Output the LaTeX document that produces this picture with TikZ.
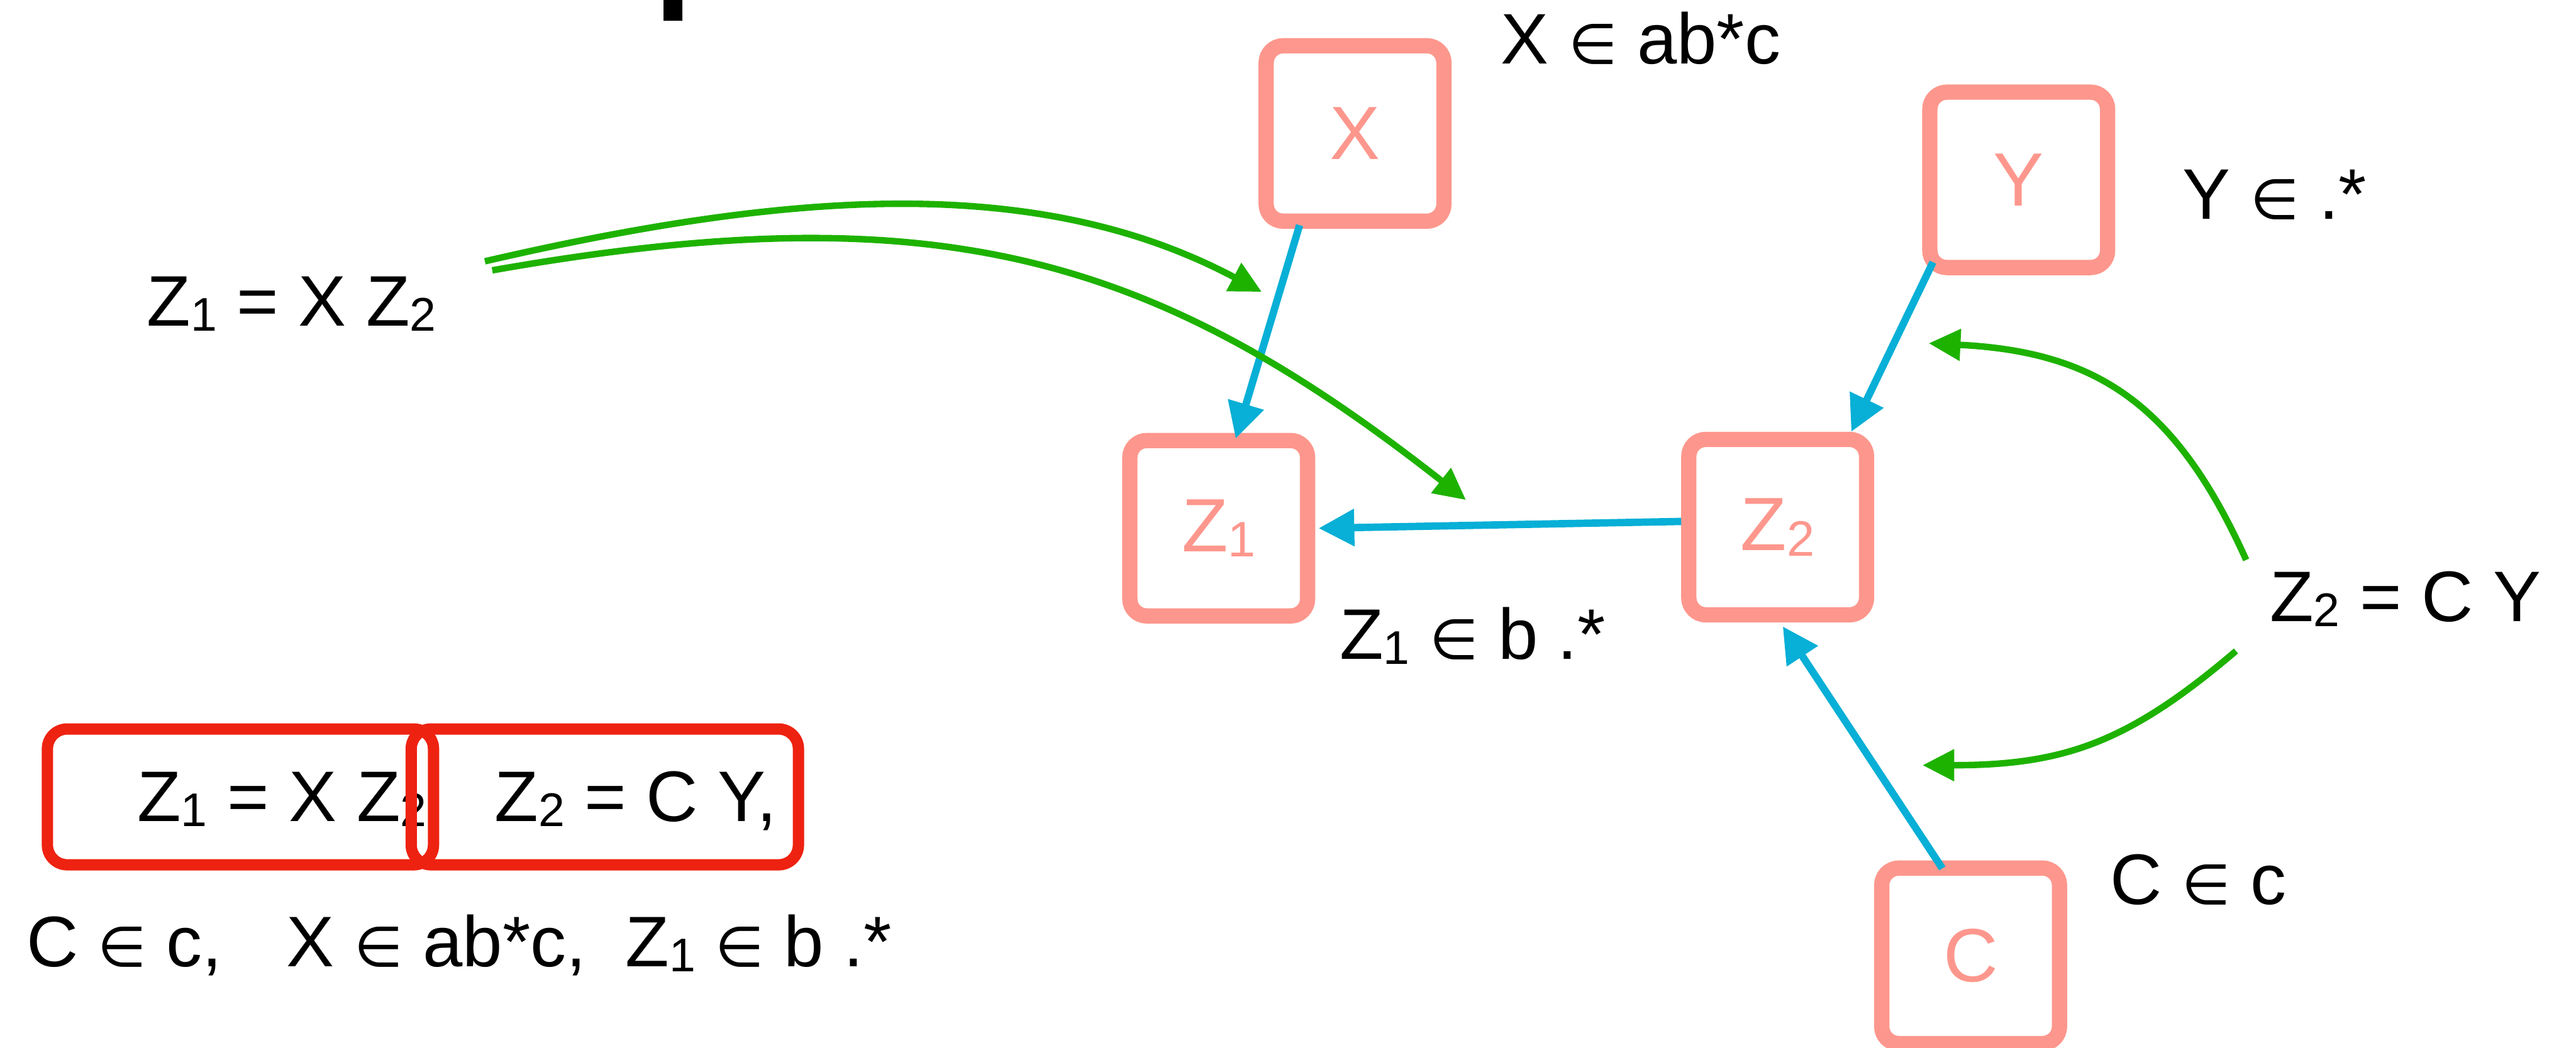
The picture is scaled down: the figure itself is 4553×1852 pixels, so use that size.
\documentclass[tikz,border=0pt]{standalone}
\usepackage{fontspec}
\usepackage{graphicx}
\setmainfont{Liberation Sans}
\newfontfamily\symf{DejaVu Sans}
\usetikzlibrary{arrows.meta}
\definecolor{salmon}{RGB}{253,151,141}
\definecolor{skyb}{RGB}{8,175,214}
\definecolor{grn}{RGB}{30,178,0}
\definecolor{redb}{RGB}{238,34,17}
\newcommand\subs[1]{\raisebox{-0.07em}{\scalebox{0.66}{#1}}}
\newcommand\elt{{\symf\scalebox{0.78}{∈}}}
\begin{document}
\begin{tikzpicture}[x=0.01cm,y=-0.01cm,
  vbox/.style={draw=salmon, line width=0.27cm, rounded corners=0.3cm, minimum width=3.14cm, minimum height=3.10cm, inner sep=0, text=salmon, font=\fontsize{38}{44}\selectfont},
  lbl/.style={inner sep=0, anchor=base west, font=\fontsize{36}{43}\selectfont},
  eqbox/.style={draw=redb, line width=0.2cm, rounded corners=0.35cm, minimum height=2.40cm, inner sep=0},
  bluearrow/.style={draw=skyb, line width=0.13cm, -{Triangle[length=0.63cm,width=0.63cm]}},
  greenarrow/.style={draw=grn, line width=0.115cm, -{Triangle[length=0.56cm,width=0.54cm]}}
]
\useasboundingbox (0,0) rectangle (4553,1852);
\fill (1173,0) rectangle (1206,37);

% variable boxes
\node[vbox] (X) at (2395,236) {X};
\node[vbox] (Y) at (3568,318) {Y};
\node[vbox] (Z1) at (2154,934) {Z\subs{1}};
\node[vbox] (Z2) at (3142,932) {Z\subs{2}};
\node[vbox] (C) at (3483,1690) {C};

% labels
\node[lbl] (lx) at (2652,113) {X \elt{} ab*c};
\node[lbl] (ly) at (3857,387) {Y \elt{} .*};
\node[lbl] (lz1) at (2367,1166) {Z\subs{1} \elt{} b .*};
\node[lbl] (lc) at (3729,1599) {C \elt{} c};
\node[lbl] (lz2eq) at (4011,1099) {Z\subs{2} = C Y};
\node[lbl] (lz1eq) at (259,576) {Z\subs{1} = X Z\subs{2}};

% bottom-left equations
\node[lbl] (t1) at (242,1452) {Z\subs{1} = X Z\subs{2}};
\node[lbl] (t2) at (874,1452) {Z\subs{2} = C Y,};
\node[eqbox, minimum width=6.82cm] (E1) at (425,1409) {};
\node[eqbox, minimum width=6.84cm] (E2) at (1069,1409) {};
\node[lbl] (facts) at (46,1709) {C \elt{} c,\hspace{0.9em}X \elt{} ab*c,\hspace{0.55em}Z\subs{1} \elt{} b .*};

% blue edges
\draw[bluearrow] ([xshift=-0.98cm,yshift=0.065cm]X.south) -- ([xshift=0.30cm,yshift=-0.10cm]Z1.north);
\draw[bluearrow] ([xshift=0.19cm,yshift=0.23cm]Y.south west) -- ([xshift=1.30cm]Z2.north);
\draw[bluearrow] ([xshift=-0.50cm,yshift=-0.14cm]C.north) -- ([xshift=0.09cm,yshift=-0.07cm]Z2.south);
\draw[bluearrow] ([yshift=0.10cm]Z2.west) -- ([xshift=0.06cm]Z1.east);

% green arrows
\coordinate (g1s) at (857,462); \coordinate (g1e) at (2230,516);
\draw[greenarrow] (g1s) .. controls (1393,338) and (1833,305) .. (g1e);
\coordinate (g2s) at (870,478); \coordinate (g2e) at (2591,884);
\draw[greenarrow] (g2s) .. controls (1658,339) and (2038,450) .. (g2e);
\coordinate (g3s) at (3970,990); \coordinate (g3e) at (3409,607);
\draw[greenarrow] (g3s) .. controls (3847,717) and (3709,622) .. (g3e);
\coordinate (g4s) at (3952,1151); \coordinate (g4e) at (3398,1353);
\draw[greenarrow] (g4s) .. controls (3762,1313) and (3648,1353) .. (g4e);
\end{tikzpicture}
\end{document}
